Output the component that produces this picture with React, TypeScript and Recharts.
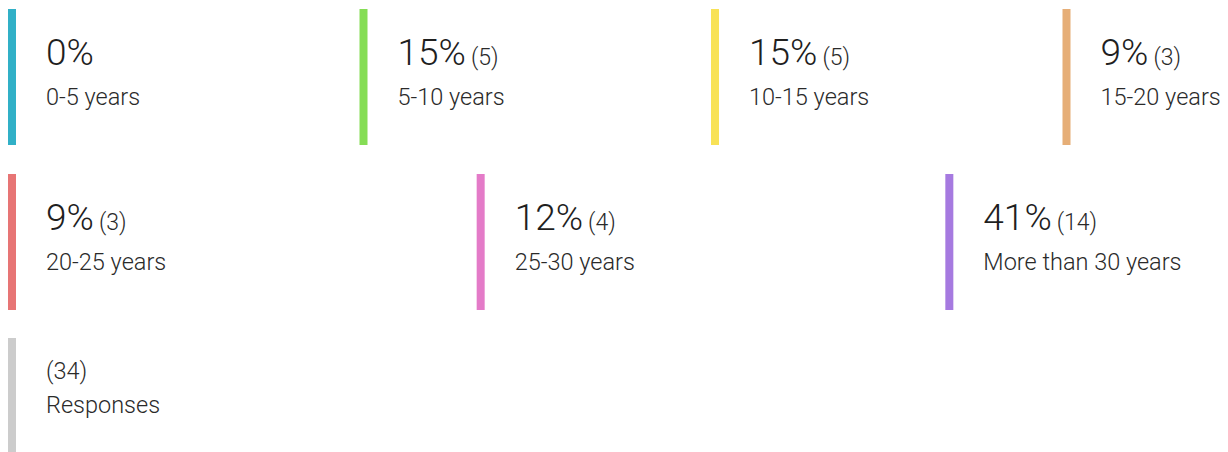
import React from "react";
import { BarChart, Bar, XAxis, YAxis } from "recharts";

// experience buckets, share of answers and answer counts
const categories = [
  "0-5 years",
  "5-10 years",
  "10-15 years",
  "15-20 years",
  "20-25 years",
  "25-30 years",
  "More than 30 years",
];
const percents = [0, 15, 15, 9, 9, 12, 41];
const counts = [0, 5, 5, 3, 3, 4, 14];
const colors = [
  "#31b0c7",
  "#85dd55",
  "#f8e257",
  "#e6ae77",
  "#e77575",
  "#e47bc8",
  "#a67ae0",
];
const rowSizes = [4, 3];

const totalResponses = 34;
const totalLabel = "Responses";
const totalColor = "#cccccc";

const CHART_WIDTH = 1406;
const ROW_HEIGHT = 136;
const STRIP_WIDTH = 8;
const TEXT_OFFSET = 38;
const COUNT_FONT = 23;
const LABEL_FONT = 23.5;
const FONT = "Roboto, 'Noto Sans', sans-serif";

interface TileData {
  name: string;
  percent: number;
  count: number;
  color: string;
}

const allTiles: TileData[] = categories.map((name, i) => ({
  name,
  percent: percents[i],
  count: counts[i],
  color: colors[i],
}));

const rows: TileData[][] = [];
let start = 0;
rowSizes.forEach((size) => {
  rows.push(allTiles.slice(start, start + size));
  start += size;
});

const totalRow = [{ name: totalLabel, count: totalResponses, color: totalColor }];

const makeStrip = (data: { color: string }[]) => (props: any) => {
  const { x, y, height, index } = props;
  return (
    <rect
      key={`strip-${index}`}
      x={x}
      y={y}
      width={STRIP_WIDTH}
      height={height}
      fill={data[index]?.color}
    />
  );
};

const makeTileText = (data: TileData[]) => (props: any) => {
  const { x, index, background } = props;
  const d = data[index];
  const top = background?.y ?? 0;
  return (
    <g key={`tile-${index}`}>
      <text
        x={x + TEXT_OFFSET}
        y={top + 56}
        fill="#1f1f1f"
        fontFamily={FONT}
      >
        <tspan fontSize={37} fontWeight={300}>{`${d.percent}%`}</tspan>
        {d.count > 0 && (
          <tspan fontSize={COUNT_FONT} fontWeight={300} dx={5} fill="#2a2a2a">
            {`(${d.count})`}
          </tspan>
        )}
      </text>
      <text
        x={x + TEXT_OFFSET}
        y={top + 96}
        fill="#2a2a2a"
        fontFamily={FONT}
        fontSize={LABEL_FONT}
        fontWeight={300}
      >
        {d.name}
      </text>
    </g>
  );
};

const TotalText = (props: any) => {
  const { x, index, background, payload } = props;
  const top = background?.y ?? 0;
  const d = payload ?? totalRow[index];
  return (
    <g key={`total-${index}`}>
      <text
        x={x + TEXT_OFFSET}
        y={top + 41}
        fill="#2a2a2a"
        fontFamily={FONT}
        fontSize={LABEL_FONT}
        fontWeight={300}
      >
        {`(${d.count})`}
      </text>
      <text
        x={x + TEXT_OFFSET}
        y={top + 75}
        fill="#2a2a2a"
        fontFamily={FONT}
        fontSize={LABEL_FONT}
        fontWeight={300}
      >
        {d.name}
      </text>
    </g>
  );
};

const margin = { top: 0, right: 0, bottom: 0, left: 0 };

export default function App() {
  return (
    <div
      style={{
        width: 1220,
        height: 444,
        overflow: "hidden",
        fontFamily: FONT,
      }}
    >
      {rows.map((row, r) => (
        <div key={r} style={{ marginTop: r === 0 ? 1 : 29 }}>
          <BarChart
            width={CHART_WIDTH}
            height={ROW_HEIGHT}
            data={row}
            margin={margin}
            barCategoryGap={0}
            barGap={0}
          >
            <XAxis dataKey="name" hide />
            <YAxis hide domain={[0, 100]} />
            <Bar
              dataKey="percent"
              isAnimationActive={false}
              background={makeStrip(row)}
              shape={makeTileText(row)}
            />
          </BarChart>
        </div>
      ))}
      <div style={{ marginTop: 28 }}>
        <BarChart
          width={CHART_WIDTH}
          height={ROW_HEIGHT}
          data={totalRow}
          margin={margin}
          barCategoryGap={0}
          barGap={0}
        >
          <XAxis dataKey="name" hide />
          <YAxis hide domain={[0, totalResponses]} />
          <Bar
            dataKey="count"
            isAnimationActive={false}
            background={makeStrip(totalRow)}
            shape={TotalText}
          />
        </BarChart>
      </div>
    </div>
  );
}
